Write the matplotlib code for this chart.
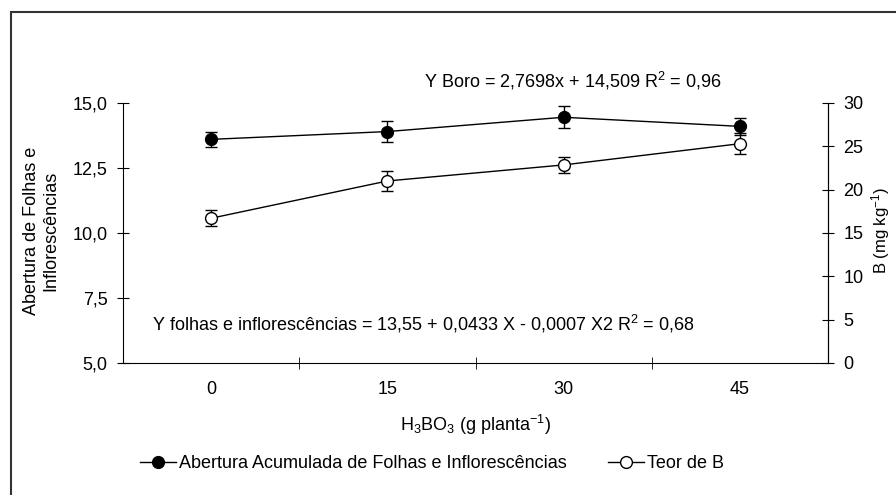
import matplotlib
matplotlib.use("Agg")
import matplotlib.pyplot as plt
from matplotlib.lines import Line2D
from matplotlib.patches import Rectangle

plt.rcParams['font.family'] = ['Liberation Sans', 'DejaVu Sans']
plt.rcParams['mathtext.fontset'] = 'custom'
plt.rcParams['mathtext.rm'] = 'Liberation Sans'
plt.rcParams['mathtext.it'] = 'Liberation Sans:italic'
plt.rcParams['font.size'] = 13

doses = ['0', '15', '30', '45']
abertura = [13.6, 13.9, 14.45, 14.1]
abertura_err = [0.3, 0.4, 0.42, 0.33]
teor_b = [16.7, 21.0, 22.85, 25.3]
teor_b_err = [0.9, 1.15, 0.95, 1.2]

fig = plt.figure(figsize=(8.96, 4.95), dpi=100)
ax = fig.add_axes([0.1373, 0.2667, 0.7868, 0.5253])
ax2 = ax.twinx()

x = list(range(len(doses)))

ax.errorbar(x, abertura, yerr=abertura_err, color='black', marker='o', ms=8.5,
            mfc='black', mec='black', lw=1, capsize=4, elinewidth=1, zorder=3)
ax2.errorbar(x, teor_b, yerr=teor_b_err, color='black', marker='o', ms=8.5,
             mfc='white', mec='black', lw=1, capsize=4, elinewidth=1, zorder=3)

ax.set_xlim(-0.5, 3.5)
ax.set_ylim(5, 15)
ax2.set_ylim(0, 30)

ax.set_xticks(x)
ax.set_xticklabels(doses)
ax.set_xticks([0.5, 1.5, 2.5], minor=True)
ax.tick_params(axis='x', which='major', length=0, pad=13)
ax.tick_params(axis='x', which='minor', direction='inout', length=8)

ax.set_yticks([5, 7.5, 10, 12.5, 15])
ax.set_yticklabels(['5,0', '7,5', '10,0', '12,5', '15,0'])
ax.tick_params(axis='y', direction='inout', length=8, pad=7)
ax2.set_yticks([0, 5, 10, 15, 20, 25, 30])
ax2.tick_params(axis='y', direction='inout', length=8, pad=7)

for a in (ax, ax2):
    a.spines['top'].set_visible(False)
ax2.spines['left'].set_visible(False)
ax2.spines['bottom'].set_visible(False)

fig.text(0.5307, 0.141,
         r'H$_\mathregular{3}$BO$_\mathregular{3}$ (g planta$^\mathregular{-1}$)',
         ha='center', va='center')
fig.text(0.046, 0.533, 'Abertura de Folhas e\nInflorescências', rotation=90,
         ha='center', va='center', multialignment='center')
fig.text(0.983, 0.535, r'B (mg kg$^\mathregular{-1}$)', rotation=90,
         ha='center', va='center', fontsize=12)

ax.text(0.638, 1.085, r'Y Boro = 2,7698x + 14,509 R$^\mathregular{2}$ = 0,96',
        transform=ax.transAxes, ha='center', va='center')
ax.text(0.041, 0.15,
        r'Y folhas e inflorescências = 13,55 + 0,0433 X - 0,0007 X2 R$^\mathregular{2}$ = 0,68',
        transform=ax.transAxes, ha='left', va='center')

handles = [
    Line2D([], [], color='black', lw=1, marker='o', ms=8.5, mfc='black', mec='black'),
    Line2D([], [], color='black', lw=1, marker='o', ms=8.5, mfc='white', mec='black'),
]
labels = ['Abertura Acumulada de Folhas e Inflorescências', 'Teor de B']
fig.legend(handles, labels, loc='center left', bbox_to_anchor=(140 / 896, 1 - 464 / 495),
           ncol=2, frameon=False, handlelength=2.0, handletextpad=0.15,
           columnspacing=2.3, borderpad=0, borderaxespad=0)

# frame around the whole figure
fig.patches.append(Rectangle((11 / 896, -0.1), 1.2, 1.1 - 12 / 495,
                             transform=fig.transFigure, fill=False,
                             edgecolor='#333333', lw=1.5))

fig.savefig('out.png', dpi=100)
